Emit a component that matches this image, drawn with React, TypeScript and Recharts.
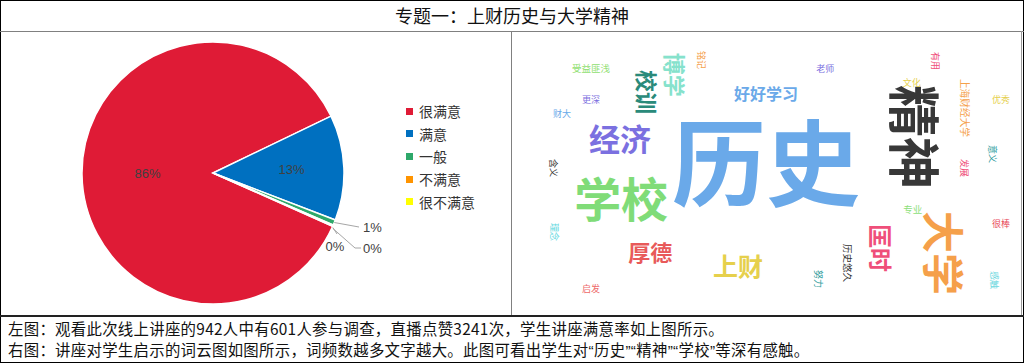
import React from 'react';
import { PieChart, Pie, Cell, Legend, ScatterChart, Scatter, XAxis, YAxis } from 'recharts';

const TITLE = '专题一：上财历史与大学精神';

// Left: satisfaction survey (601 respondents)
const categories = ['很满意', '满意', '一般', '不满意', '很不满意'];
const counts = [518, 78, 4, 1, 0];
const pieColors = ['#df1b36', '#0070c0', '#2ea86a', '#ff9400', '#ffff00'];

// Right: word cloud (word, position in a 0-100 plane, weight, vertical flag)
const words = ['历史', '精神', '学校', '经济', '大学', '匡时', '厚德', '上财', '校训', '博学', '好好学习', '历史悠久', '努力', '专业', '很棒', '感触', '启发', '理念', '含义', '财大', '更深', '受益匪浅', '铭记', '老师', '有用', '文化', '上海财经大学', '优秀', '意义', '发展'];
const wordX = [49.8, 79.4, 21.4, 21.2, 84.9, 72.5, 27.1, 44.3, 26.7, 32.2, 49.8, 65.9, 60.0, 78.6, 95.9, 94.7, 15.5, 8.4, 8.2, 9.8, 15.5, 15.5, 37.1, 61.4, 83.1, 78.4, 88.8, 95.9, 94.3, 88.8];
const wordY = [55.6, 62.8, 41.8, 62.5, 22.1, 23.9, 22.8, 17.9, 78.6, 84.6, 78.4, 18.6, 13.0, 37.5, 32.3, 12.6, 9.8, 29.5, 51.9, 70.9, 76.1, 87.0, 89.8, 87.0, 89.5, 81.8, 73.0, 76.1, 56.8, 51.9];
const wordWeight = [94, 52, 47, 31, 42, 24, 22, 25, 22, 22, 16, 9.5, 9, 9.5, 9, 9, 9, 9, 9, 9, 9, 9.5, 9, 9, 9, 9, 9.7, 9, 9, 9];
const wordVertical = [false, true, false, false, true, true, false, false, true, true, false, true, true, false, false, true, false, true, true, false, false, false, true, false, true, false, true, false, true, true];
const wordColors = ['#6aa9e9', '#383838', '#80dc78', '#7b70e0', '#f5a04a', '#ef4f7a', '#e85a5a', '#e6d04c', '#2a8a7a', '#86e2cc', '#6aa9e9', '#333333', '#2a9a9a', '#8de07a', '#e8485a', '#70d8e0', '#ee6a6a', '#60d8e0', '#333333', '#6aa9e9', '#7b70e0', '#90e070', '#f5a04a', '#7b70e0', '#ef4f7a', '#e6d04c', '#f5a04a', '#e6d04c', '#2a9a9a', '#ef4f7a'];

const notes = [
  '左图：观看此次线上讲座的942人中有601人参与调查，直播点赞3241次，学生讲座满意率如上图所示。',
  '右图：讲座对学生启示的词云图如图所示，词频数越多文字越大。此图可看出学生对“历史”“精神”“学校”等深有感触。',
];

const pieData = categories.map((name, i) => ({ name, value: counts[i] }));
const cloudData = words.map((w, i) => ({ word: w, x: wordX[i], y: wordY[i], weight: wordWeight[i], vertical: wordVertical[i], color: wordColors[i] }));

const CJK = '"Noto Sans CJK SC", "Noto Sans", sans-serif';
const LAT = '"Liberation Sans", Arial, sans-serif';
const RAD = Math.PI / 180;

const renderLabel = (p: any) => {
  const { cx, cy, midAngle, outerRadius, index, percent } = p;
  const text = `${Math.round(percent * 100)}%`;
  const cos = Math.cos(-midAngle * RAD);
  const sin = Math.sin(-midAngle * RAD);
  const common = { fill: '#404040', fontSize: 13, fontFamily: LAT };
  if (index < 2) {
    const f = index === 0 ? 0.5 : 0.6;
    return (
      <text x={cx + outerRadius * f * cos} y={cy + outerRadius * f * sin} textAnchor="middle" dominantBaseline="central" {...common}>
        {text}
      </text>
    );
  }
  const ex = cx + outerRadius * cos;
  const ey = cy + outerRadius * sin;
  if (index === 2) {
    return (
      <g>
        <polyline points={`${ex},${ey} ${cx + 146},${cy + 54}`} stroke="#a6a6a6" fill="none" />
        <text x={cx + 150} y={cy + 54} textAnchor="start" dominantBaseline="central" {...common}>{text}</text>
      </g>
    );
  }
  if (index === 3) {
    return (
      <g>
        <polyline points={`${ex},${ey + 2} ${cx + 124},${cy + 61}`} stroke="#a6a6a6" fill="none" />
        <text x={cx + 122} y={cy + 73} textAnchor="middle" dominantBaseline="central" {...common}>{text}</text>
      </g>
    );
  }
  return (
    <g>
      <polyline points={`${ex},${ey + 2} ${cx + 142},${cy + 75} ${cx + 148},${cy + 75}`} stroke="#a6a6a6" fill="none" />
      <text x={cx + 150} y={cy + 75} textAnchor="start" dominantBaseline="central" {...common}>{text}</text>
    </g>
  );
};

const LegendContent = () => (
  <div style={{ fontFamily: CJK }}>
    {categories.map((c, i) => (
      <div key={c} style={{ height: 22.6, display: 'flex', alignItems: 'center' }}>
        <span style={{ width: 7, height: 7, background: pieColors[i], display: 'inline-block', marginRight: 6 }} />
        <span style={{ fontSize: 14, color: '#333' }}>{c}</span>
      </div>
    ))}
  </div>
);

const WordShape = (props: any) => {
  const { cx, cy, payload } = props;
  if (cx == null || cy == null) return null;
  return (
    <text
      x={cx}
      y={cy}
      textAnchor="middle"
      dominantBaseline="central"
      fontSize={payload.weight}
      fontWeight={payload.weight >= 14 ? 700 : 400}
      fontFamily={CJK}
      fill={payload.color}
      transform={payload.vertical ? `rotate(90 ${cx} ${cy})` : undefined}
    >
      {payload.word}
    </text>
  );
};

// render curly quotes in a narrow Latin face, as in the reference
const renderNote = (s: string) =>
  s.split(/([“”])/).map((part, i) =>
    part === '“' || part === '”' ? (
      <span key={i} style={{ fontFamily: LAT }}>{part}</span>
    ) : (
      part
    )
  );

const line = (s: React.CSSProperties) => <div style={{ position: 'absolute', ...s }} />;

export default function App() {
  return (
    <div style={{ position: 'absolute', left: 0, top: 0, width: 1024, height: 363, background: '#fff', overflow: 'hidden', fontFamily: CJK }}>
      <div style={{ position: 'absolute', left: 0, top: 0, width: 1024, height: 31, lineHeight: '31px', textAlign: 'center', fontSize: 18, color: '#111' }}>
        {TITLE}
      </div>

      <div style={{ position: 'absolute', left: 0, top: 31 }}>
        <PieChart width={511} height={284} margin={{ top: 0, right: 0, bottom: 0, left: 0 }}>
          <Pie
            data={pieData}
            dataKey="value"
            nameKey="name"
            cx={213}
            cy={142}
            outerRadius={131}
            startAngle={-24}
            endAngle={-384}
            stroke="#fff"
            strokeWidth={1.5}
            label={renderLabel}
            labelLine={false}
            isAnimationActive={false}
          >
            {pieData.map((d, i) => (
              <Cell key={d.name} fill={pieColors[i]} />
            ))}
          </Pie>
          <Legend layout="vertical" align="right" verticalAlign="middle" content={LegendContent} wrapperStyle={{ left: 406, top: 69, width: 100 }} />
        </PieChart>
      </div>

      <div style={{ position: 'absolute', left: 512, top: 31 }}>
        <ScatterChart width={510} height={285} margin={{ top: 0, right: 0, bottom: 0, left: 0 }}>
          <XAxis type="number" dataKey="x" domain={[0, 100]} hide />
          <YAxis type="number" dataKey="y" domain={[0, 100]} hide />
          <Scatter data={cloudData} shape={WordShape} isAnimationActive={false} />
        </ScatterChart>
      </div>

      <div style={{ position: 'absolute', left: 8, top: 318, fontSize: 15.4, lineHeight: '20.5px', letterSpacing: 0.3, color: '#111', whiteSpace: 'nowrap' }}>
        <div>{renderNote(notes[0])}</div>
        <div>{renderNote(notes[1])}</div>
      </div>

      {line({ left: 0, top: 0, width: 1024, height: 1, background: '#000' })}
      {line({ left: 0, top: 362, width: 1024, height: 1, background: '#000' })}
      {line({ left: 0, top: 0, width: 1, height: 363, background: '#000' })}
      {line({ left: 1023, top: 0, width: 1, height: 363, background: '#000' })}
      {line({ left: 0, top: 31, width: 1024, height: 1, background: '#808080' })}
      {line({ left: 511, top: 31, width: 1, height: 285, background: '#808080' })}
      {line({ left: 1021, top: 31, width: 1, height: 285, background: '#999' })}
      {line({ left: 0, top: 315, width: 1024, height: 2, background: '#222' })}
    </div>
  );
}
